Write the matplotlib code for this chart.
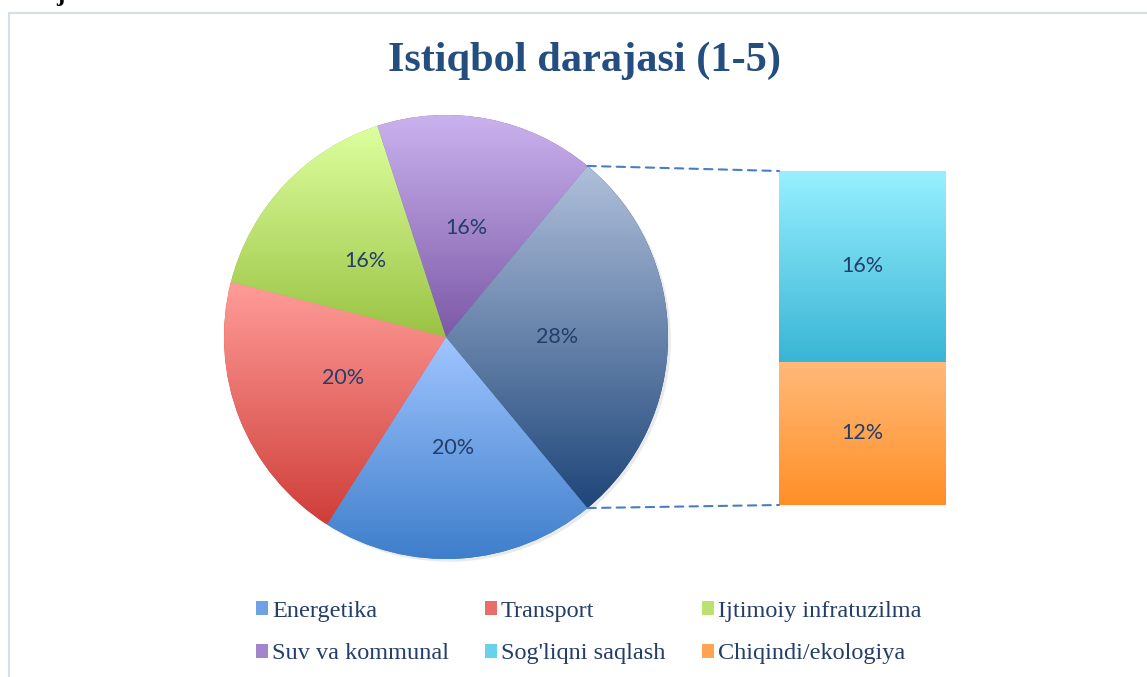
import numpy as np
import matplotlib.pyplot as plt
from matplotlib.patches import Patch, Rectangle
from matplotlib.patches import ConnectionPatch
import matplotlib.patheffects as pe

# data
pie_labels = ['Energetika', 'Transport', 'Ijtimoiy infratuzilma', 'Suv va kommunal']
pie_values = [20, 20, 16, 16]
bar_labels = ["Sog'liqni saqlash", 'Chiqindi/ekologiya']
bar_values = [16, 12]
title = 'Istiqbol darajasi (1-5)'

# gradients (top colour, bottom colour)
pie_grad = [('#A0C5FF', '#3E7ECB'), ('#FF9D99', '#CF3E39'),
            ('#DEFF9F', '#9AC343'), ('#CAB2EE', '#7C59A7')]
other_grad = ('#B0C0DB', '#1E4679')
bar_grad = [('#97F0FF', '#39B5D5'), ('#FFBA7A', '#FF8F26')]
txt_col = '#233E6A'

W, H = 1147, 677
fig = plt.figure(figsize=(W / 100, H / 100), dpi=100)


def px_axes(l, t, w, h):
    return fig.add_axes([l / W, 1 - (t + h) / H, w / W, h / H])


def grad(c1, c2, n=256):
    a = np.array(plt.matplotlib.colors.to_rgb(c1))
    b = np.array(plt.matplotlib.colors.to_rgb(c2))
    t = np.linspace(0, 1, n)[:, None]
    return (a + (b - a) * t)[:, None, :]


shadow = [pe.SimplePatchShadow(offset=(2, -2), shadow_rgbFace='#999999', alpha=0.2), pe.Normal()]

# pie
ax = px_axes(224, 115, 444, 444)
other = sum(bar_values)
vals = pie_values + [other]
grads = pie_grad + [other_grad]
start = -other / sum(vals) * 360 / 2
wedges, texts, autotexts = ax.pie(vals, startangle=start, counterclock=False,
                                  autopct='%d%%', pctdistance=0.5,
                                  textprops=dict(color=txt_col, fontsize=15.5, family='Lato'))
for w, (c1, c2) in zip(wedges, grads):
    w.set_facecolor(c2)
    w.set_path_effects(shadow)
    th = np.radians(np.linspace(w.theta1, w.theta2, 200))
    xs = np.append(np.cos(th), 0)
    ys = np.append(np.sin(th), 0)
    im = ax.imshow(grad(c1, c2), extent=[xs.min(), xs.max(), ys.min(), ys.max()],
                   aspect='auto', interpolation='bilinear', zorder=1.5)
    im.set_clip_path(w)
for t in autotexts:
    t.set_zorder(3)
ax.set_xlim(-1, 1)
ax.set_ylim(-1, 1)
ax.set_aspect('equal')
ax.axis('off')

# bar of pie
bx = px_axes(779, 171, 167, 334)
bottoms = [bar_values[1], 0]
for v, b, (c1, c2) in zip(bar_values, bottoms, bar_grad):
    bars = bx.bar(0, v, bottom=b, width=1, color=c2, path_effects=shadow)
    im = bx.imshow(grad(c1, c2), extent=[-0.5, 0.5, b, b + v], aspect='auto',
                   interpolation='bilinear', zorder=1.5)
    im.set_clip_path(bars[0])
    bx.bar_label(bars, labels=[f'{v}%'], label_type='center', color=txt_col,
                 fontsize=15.5, family='Lato', zorder=3)
bx.set_xlim(-0.5, 0.5)
bx.set_ylim(0, other)
bx.axis('off')

# connector lines
a = np.radians(-start)
for sy, yb in [(1, 1), (-1, 0)]:
    con = ConnectionPatch(xyA=(np.cos(a), sy * np.sin(a)), coordsA=ax.transData,
                          xyB=(0, yb), coordsB=bx.transAxes,
                          color='#4A7DC6', lw=1.5, linestyle=(0, (4, 3)))
    fig.add_artist(con)

# title
fig.text(585 / W, 1 - 61 / H, title, ha='center', va='center', fontsize=30.5,
         fontweight='bold', family='Liberation Serif', color='#254E80')

# legend (row-wise order)
names = pie_labels + bar_labels
cols = [plt.matplotlib.colors.to_hex((np.array(plt.matplotlib.colors.to_rgb(g[0])) +
                                      np.array(plt.matplotlib.colors.to_rgb(g[1]))) / 2)
        for g in pie_grad + bar_grad]
handles = [Patch(facecolor=c, edgecolor='none') for c in cols]
order = [0, 3, 1, 4, 2, 5]
fig.legend([handles[i] for i in order], [names[i] for i in order], ncol=3,
           loc='upper left', bbox_to_anchor=(256 / W, 1 - 601 / H), frameon=False,
           prop=dict(family='Liberation Serif', size=17.5), labelcolor=txt_col,
           handlelength=0.5, handleheight=0.5, handletextpad=0.15,
           columnspacing=1.5, labelspacing=0.88, borderpad=0, borderaxespad=0)

# chart frame and cut-off text above
fig.add_artist(Rectangle((9 / W, -0.05), 1.0, 1.05 - 13 / H, transform=fig.transFigure,
                         fill=False, edgecolor='#D5DFEC', lw=1.5))
fig.text(56 / W, 1 - 1 / H, 'j', va='baseline', fontsize=18, fontweight='bold',
         family='Liberation Serif')

fig.savefig('out.png', dpi=100)
